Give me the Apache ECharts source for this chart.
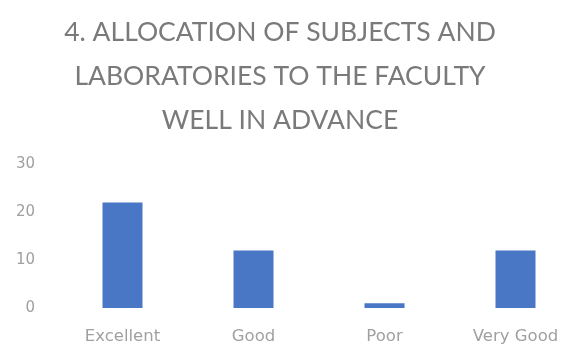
<!DOCTYPE html>
<html>
<head>
<meta charset="utf-8">
<script src="https://cdn.jsdelivr.net/npm/echarts@6/dist/echarts.min.js"></script>
<style>
html,body{margin:0;padding:0;background:#fff;overflow:hidden}
#main{width:600px;height:347px}
</style>
</head>
<body>
<div id="main"></div>
<script>
var categories = ['Excellent', 'Good', 'Poor', 'Very Good']
var counts = [22, 12, 1, 12]
var titleText = '4. ALLOCATION OF SUBJECTS AND\nLABORATORIES TO THE FACULTY\nWELL IN ADVANCE'

var chart = echarts.init(document.getElementById('main'))

var option = {
    animation: false,
    title: {
        text: titleText,
        left: 275,
        top: 5,
        textAlign: 'center',
        textStyle: {
            fontFamily: 'Lato',
            fontWeight: 'normal',
            fontSize: 26.5,
            lineHeight: 44,
            color: '#7a7a7a'
        }
    },
    grid: {
        left: 57,
        top: 164,
        width: 524,
        height: 144
    },
    xAxis: {
        type: 'category',
        data: categories,
        axisLine: { show: false },
        axisTick: { show: false },
        axisLabel: {
            margin: 20,
            fontFamily: 'DejaVu Sans',
            fontSize: 16.5,
            color: '#a0a0a0'
        }
    },
    yAxis: {
        type: 'value',
        min: 0,
        max: 30,
        interval: 10,
        splitLine: { show: false },
        axisLabel: {
            margin: 22,
            fontFamily: 'DejaVu Sans',
            fontSize: 15,
            color: '#a0a0a0'
        }
    },
    series: [
        {
            type: 'bar',
            data: counts,
            barWidth: 40,
            itemStyle: { color: '#4a76c6' }
        }
    ]
}

chart.setOption(option)
</script>
</body>
</html>
